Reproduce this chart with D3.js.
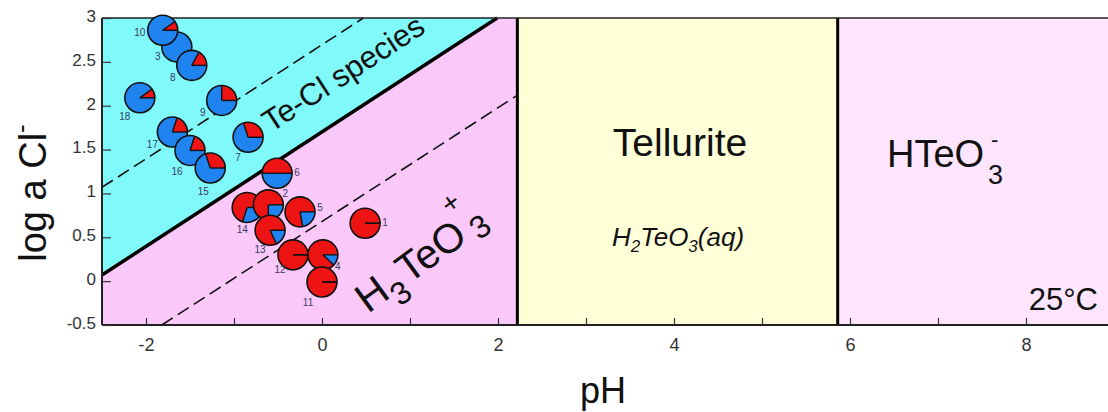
<!DOCTYPE html>
<html>
<head>
<meta charset="utf-8">
<script src="https://cdn.jsdelivr.net/npm/d3@7/dist/d3.min.js"></script>
<style>
  html, body { margin: 0; padding: 0; background: #fff; }
  svg { display: block; font-family: "Liberation Sans", Arial, sans-serif; }
</style>
</head>
<body>
<svg id="chart" width="1108" height="412"></svg>
<script>
// Sample points: id, pH, log a Cl-, fraction of Te present as Cl complexes (red)
const sampleIds   = ["3", "10", "8", "18", "9", "17", "16", "15", "7", "6", "14", "2", "13", "5", "12", "4", "11", "1"];
const samplePH    = [-1.65, -1.81, -1.48, -2.07, -1.14, -1.70, -1.50, -1.27, -0.84, -0.51, -0.85, -0.61, -0.59, -0.25, -0.33, 0.01, 0.00, 0.49];
const sampleLogCl = [2.67, 2.86, 2.46, 2.09, 2.06, 1.70, 1.49, 1.29, 1.64, 1.23, 0.84, 0.87, 0.58, 0.79, 0.30, 0.30, -0.01, 0.66];
const redFraction = [0.00, 0.10, 0.17, 0.10, 0.25, 0.20, 0.20, 0.30, 0.30, 0.50, 0.70, 0.75, 0.82, 0.78, 1.00, 0.88, 1.00, 1.00];

// Field boundaries (pH, log a Cl-)
const teClBoundary   = [[-2.5, 0.07], [1.99, 3.0]];
const upperDashed    = [[-2.5, 1.07], [0.47, 3.0]];
const lowerDashed    = [[-1.82, -0.5], [2.22, 2.12]];
const telluriteLeft  = 2.22;
const telluriteRight = 5.86;

// Axes
const phDomain    = [-2.5, 9];
const logClDomain = [-0.5, 3];
const phTicks     = [-2, -1, 0, 1, 2, 3, 4, 5, 6, 7, 8];
const phTickLabels = [-2, 0, 2, 4, 6, 8];
const logClTicks  = [-0.5, 0, 0.5, 1, 1.5, 2, 2.5, 3];

const svg = d3.select("#chart");
const x = d3.scaleLinear().domain(phDomain).range([102, 1114]);
const y = d3.scaleLinear().domain(logClDomain).range([325, 18]);

const colors = {
  teCl: "#80f9fa",
  h3teo3: "#fac9fa",
  tellurite: "#ffffd8",
  hteo3: "#fde5fd",
  red: "#ee1414",
  blue: "#1f84f0"
};

const line = d3.line().x(d => x(d[0])).y(d => y(d[1]));

// Stability fields
const [x0, x1] = phDomain, [y0, y1] = logClDomain;
svg.append("path").attr("fill", colors.h3teo3)
  .attr("d", line([[x0, y0], teClBoundary[0], teClBoundary[1], [telluriteLeft, y1], [telluriteLeft, y0]]) + "Z");
svg.append("path").attr("fill", colors.teCl)
  .attr("d", line([teClBoundary[0], teClBoundary[1], [x0, y1]]) + "Z");
svg.append("path").attr("fill", colors.tellurite)
  .attr("d", line([[telluriteLeft, y0], [telluriteLeft, y1], [telluriteRight, y1], [telluriteRight, y0]]) + "Z");
svg.append("path").attr("fill", colors.hteo3)
  .attr("d", line([[telluriteRight, y0], [telluriteRight, y1], [x1, y1], [x1, y0]]) + "Z");

// Dashed iso-lines
[upperDashed, lowerDashed].forEach(seg => {
  svg.append("path").attr("d", line(seg))
    .attr("fill", "none").attr("stroke", "#111").attr("stroke-width", 1.6)
    .attr("stroke-dasharray", "13,6");
});

// Boundaries
svg.append("path").attr("d", line(teClBoundary))
  .attr("fill", "none").attr("stroke", "#000").attr("stroke-width", 3.5);
[telluriteLeft, telluriteRight].forEach(v => {
  svg.append("line").attr("x1", x(v)).attr("x2", x(v)).attr("y1", y(y0)).attr("y2", y(y1))
    .attr("stroke", "#000").attr("stroke-width", 3);
});

// Frame
svg.append("line").attr("x1", x(x0)).attr("x2", 1108).attr("y1", y(y1)).attr("y2", y(y1))
  .attr("stroke", "#222").attr("stroke-width", 1.5);

// Axes with inward ticks
const xAxis = d3.axisBottom(x).tickValues(phTicks).tickSize(-7)
  .tickFormat(d => phTickLabels.includes(d) ? String(d) : "");
const gx = svg.append("g").attr("transform", `translate(0,${y(y0)})`).call(xAxis);
gx.select(".domain").attr("stroke", "#222").attr("stroke-width", 2)
  .attr("d", `M${x(x0)},0H1108`);
gx.selectAll(".tick line").attr("stroke", "#333").attr("stroke-width", 1.2);
gx.selectAll(".tick text").attr("y", 13).attr("font-size", 18).attr("fill", "#333")
  .attr("font-family", "Liberation Sans, Arial, sans-serif");

const yAxis = d3.axisLeft(y).tickValues(logClTicks).tickSize(-9).tickFormat(d => String(d));
const gy = svg.append("g").attr("transform", `translate(${x(x0)},0)`).call(yAxis);
gy.select(".domain").attr("stroke", "#222").attr("stroke-width", 2)
  .attr("d", `M0,${y(y0)}V${y(y1)}`);
gy.selectAll(".tick line").attr("stroke", "#333").attr("stroke-width", 1.2);
gy.selectAll(".tick text").attr("x", -6).attr("dy", "0.2em").attr("font-size", 17).attr("fill", "#333")
  .attr("font-family", "Liberation Sans, Arial, sans-serif");

// Field labels
const lbl = svg.append("g").attr("fill", "#111");
lbl.append("text").attr("transform", `translate(271,133) rotate(-33)`)
  .attr("font-size", 31).text("Te-Cl species");

const h3 = lbl.append("g").attr("transform", `translate(368,314) rotate(-36)`);
h3.append("text").attr("font-size", 41).text("H");
h3.append("text").attr("x", 30).attr("y", 13).attr("font-size", 32).text("3");
h3.append("text").attr("x", 50).attr("font-size", 41).text("TeO");
h3.append("text").attr("x", 124).attr("y", -32).attr("font-size", 28).text("+");
h3.append("text").attr("x", 133).attr("y", 6).attr("font-size", 32).text("3");

lbl.append("text").attr("x", 680).attr("y", 156).attr("text-anchor", "middle")
  .attr("font-size", 39).text("Tellurite");
const aq = lbl.append("text").attr("x", 678).attr("y", 246).attr("text-anchor", "middle")
  .attr("font-size", 26).attr("font-style", "italic");
aq.append("tspan").text("H");
aq.append("tspan").attr("font-size", 17).attr("dy", 6).text("2");
aq.append("tspan").attr("dy", -6).text("TeO");
aq.append("tspan").attr("font-size", 17).attr("dy", 6).text("3");
aq.append("tspan").attr("dy", -6).text("(aq)");

const hte = lbl.append("g").attr("transform", "translate(887,167)");
hte.append("text").attr("font-size", 38).text("HTeO");
hte.append("text").attr("x", 101).attr("y", 17).attr("font-size", 27).text("3");
hte.append("text").attr("x", 104).attr("y", -20).attr("font-size", 22).text("-");

lbl.append("text").attr("x", 1098).attr("y", 310).attr("text-anchor", "end")
  .attr("font-size", 31).text("25°C");

// Axis titles
const yt = svg.append("text").attr("transform", "translate(46,193) rotate(-90)")
  .attr("text-anchor", "middle").attr("font-size", 38).attr("fill", "#111");
yt.append("tspan").text("log a Cl");
yt.append("tspan").attr("font-size", 26).attr("dy", -16).text("-");

svg.append("text").attr("x", 603).attr("y", 403).attr("text-anchor", "middle")
  .attr("font-size", 36).attr("fill", "#111").text("pH");

// Sample pies
const R = 15;
const arc = d3.arc().innerRadius(0).outerRadius(R);
const labelOffset = {
  "10": [-23, 6], "3": [-19, 13], "8": [-19, 16], "18": [-15, 22], "9": [-19, 16],
  "17": [-20, 16], "16": [-13, 25], "15": [-7, 27], "7": [-10, 24], "6": [20, 3],
  "2": [17, -8], "14": [-5, 26], "13": [-10, 23], "12": [-13, 18], "11": [-14, 24],
  "4": [15, 15], "5": [20, -1], "1": [20, 3]
};

const samples = sampleIds.map((id, i) => ({
  id, ph: samplePH[i], cl: sampleLogCl[i], f: redFraction[i]
}));

const pieGroups = svg.append("g").selectAll("g").data(samples).join("g")
  .attr("transform", d => `translate(${x(d.ph)},${y(d.cl)})`);

pieGroups.each(function(d) {
  const g = d3.select(this);
  const start = Math.PI / 2 - 2 * Math.PI * d.f;
  const slices = d3.pie().sort(null).value(v => v)
    .startAngle(start).endAngle(start + 2 * Math.PI)([d.f, 1 - d.f]);
  g.selectAll("path").data(slices).join("path")
    .attr("d", arc).attr("fill", (s, i) => i === 0 ? colors.red : colors.blue);
  if (d.f > 0) {
    [Math.PI / 2, start].forEach(a => {
      g.append("line").attr("x1", 0).attr("y1", 0)
        .attr("x2", R * Math.sin(a)).attr("y2", -R * Math.cos(a))
        .attr("stroke", "#111").attr("stroke-width", 1.4);
    });
  }
  g.append("circle").attr("r", R).attr("fill", "none")
    .attr("stroke", "#111").attr("stroke-width", 1.6);
  const o = labelOffset[d.id] || [-15, 20];
  g.append("text").attr("x", o[0]).attr("y", o[1]).attr("text-anchor", "middle")
    .attr("font-size", 10).attr("fill", "#3a3a66").text(d.id);
});
</script>
</body>
</html>
